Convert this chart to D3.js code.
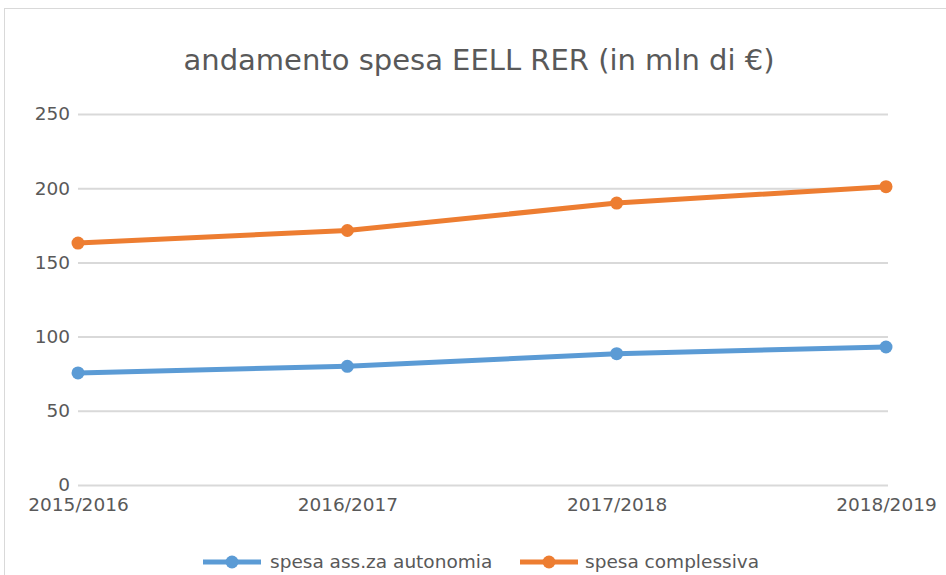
<!DOCTYPE html>
<html><head><meta charset="utf-8">
<script src="https://cdn.jsdelivr.net/npm/d3@7"></script>
<style>body{margin:0;background:#fff}svg{display:block}</style>
</head><body>
<svg id="c" width="946" height="575"></svg>
<script>
const categories = ["2015/2016","2016/2017","2017/2018","2018/2019"];
const seriesNames = ["spesa ass.za autonomia","spesa complessiva"];
const spesaAutonomia = [75.5, 80, 88.5, 93];
const spesaComplessiva = [163, 171.5, 190, 201];
const yTicks = [0,50,100,150,200,250];
const colors = ["#5b9bd5","#ed7d31"];
const title = "andamento spesa EELL RER (in mln di €)";

const svg = d3.select("#c");
const font = "'DejaVu Sans', sans-serif";
svg.append("rect").attr("x",4.5).attr("y",8.5).attr("width",1000).attr("height",1000)
  .attr("fill","#fff").attr("stroke","#d9d9d9");

const x = d3.scalePoint().domain(categories).range([78,886]);
const y = d3.scaleLinear().domain([0,250]).range([485,114]);

svg.append("text").attr("x",479).attr("y",70).attr("text-anchor","middle")
  .attr("font-family",font).attr("font-size",29).attr("fill","#595959").text(title);

const yAxis = svg.append("g").attr("transform","translate(78,0)")
  .call(d3.axisLeft(y).tickValues(yTicks).tickSize(-810).tickPadding(8));
yAxis.select(".domain").remove();
yAxis.selectAll("line").attr("stroke","#d9d9d9").attr("stroke-width",2);
yAxis.selectAll("text").attr("font-family",font).attr("font-size",18.5).attr("fill","#595959");

const xAxis = svg.append("g").attr("transform","translate(0,485)")
  .call(d3.axisBottom(x).tickSize(0).tickPadding(13));
xAxis.select(".domain").remove();
xAxis.selectAll("text").attr("font-family",font).attr("font-size",18.5).attr("fill","#595959");

const series = [spesaAutonomia, spesaComplessiva];
const line = d3.line().x((d,i)=>x(categories[i])).y(d=>y(d));
series.forEach((s,k)=>{
  svg.append("path").datum(s).attr("d",line).attr("fill","none")
    .attr("stroke",colors[k]).attr("stroke-width",5).attr("stroke-linejoin","round");
  svg.selectAll(null).data(s).enter().append("circle")
    .attr("cx",(d,i)=>x(categories[i])).attr("cy",d=>y(d)).attr("r",6.5).attr("fill",colors[k]);
});

// legend
const leg = [{x0:203,tx:270},{x0:520,tx:585}];
leg.forEach((l,k)=>{
  const g = svg.append("g");
  g.append("line").attr("x1",l.x0).attr("x2",l.x0+58).attr("y1",562).attr("y2",562)
    .attr("stroke",colors[k]).attr("stroke-width",5);
  g.append("circle").attr("cx",l.x0+29).attr("cy",562).attr("r",6.5).attr("fill",colors[k]);
  g.append("text").attr("x",l.tx).attr("y",562).attr("dy","0.35em")
    .attr("font-family",font).attr("font-size",18.5).attr("fill","#595959").text(seriesNames[k]);
});
</script>
</body></html>
